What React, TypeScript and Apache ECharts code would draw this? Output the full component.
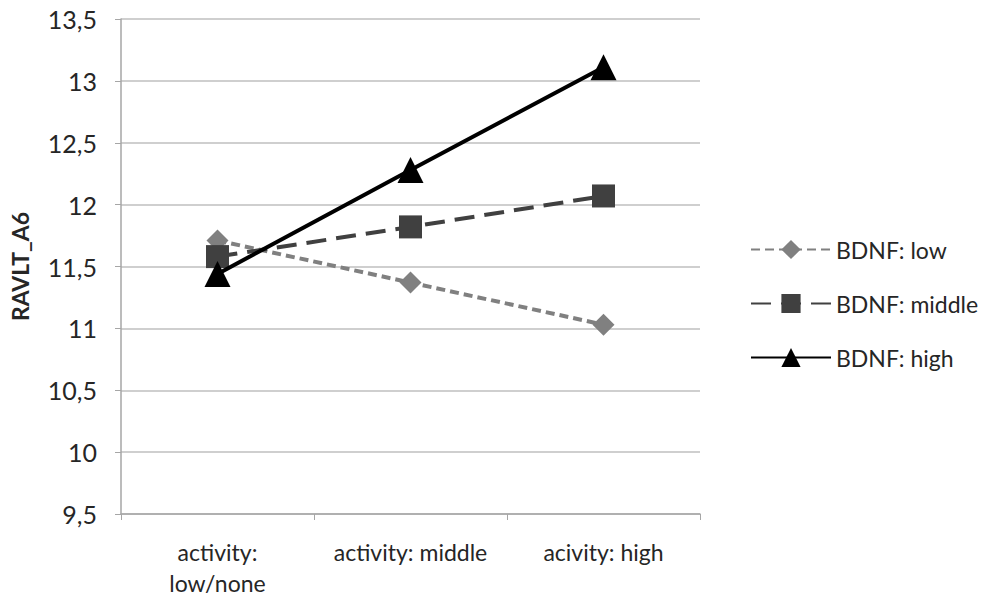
import React, { useEffect, useRef } from "react";
import * as echarts from "echarts";

const categories = ["activity:\nlow/none", "activity: middle", "acivity: high"];
const seriesNames = ["BDNF: low", "BDNF: middle", "BDNF: high"];
const lowValues = [11.71, 11.37, 11.03];
const middleValues = [11.58, 11.82, 12.07];
const highValues = [11.44, 12.28, 13.11];
const yTicks = { min: 9.5, max: 13.5, interval: 0.5 };

const FONT = "Lato, 'Open Sans', sans-serif";

export default function App() {
  const ref = useRef<HTMLDivElement>(null);
  useEffect(() => {
    if (!ref.current) return;
    const chart = echarts.init(ref.current, undefined, { renderer: "svg" });
    chart.setOption({
      animation: false,
      backgroundColor: "#ffffff",
      textStyle: { fontFamily: FONT },
      grid: {
        left: 121,
        right: 300,
        top: 19,
        bottom: 91,
        containLabel: false,
        outerBoundsMode: "none",
      },
      legend: {
        orient: "vertical",
        left: 745,
        top: 233,
        itemWidth: 80,
        itemHeight: 24,
        itemGap: 31,
        textStyle: { fontSize: 23, color: "#262626", fontFamily: FONT },
        data: seriesNames,
      },
      xAxis: {
        type: "category",
        data: categories,
        boundaryGap: true,
        axisLine: { lineStyle: { color: "#a6a6a6", width: 1.5 } },
        axisTick: { show: true, length: 6, alignWithLabel: false, lineStyle: { color: "#a6a6a6" } },
        axisLabel: {
          interval: 0,
          hideOverlap: false,
          fontSize: 23,
          color: "#262626",
          margin: 22,
          lineHeight: 31,
          fontFamily: FONT,
        },
      },
      yAxis: {
        type: "value",
        min: yTicks.min,
        max: yTicks.max,
        interval: yTicks.interval,
        name: "RAVLT_A6",
        nameLocation: "middle",
        nameGap: 90,
        nameTextStyle: { fontSize: 23, fontWeight: "bold", color: "#262626", fontFamily: FONT },
        axisLine: { show: true, lineStyle: { color: "#a6a6a6", width: 1.5 } },
        axisTick: { show: true, length: 6, lineStyle: { color: "#a6a6a6" } },
        splitLine: { lineStyle: { color: "#bfbfbf", width: 1.5 } },
        axisLabel: {
          fontSize: 25,
          color: "#262626",
          margin: 24,
          fontFamily: FONT,
          formatter: (v: number) => String(v).replace(".", ","),
        },
      },
      series: [
        {
          name: seriesNames[0],
          type: "line",
          data: lowValues,
          symbol: "diamond",
          symbolSize: 22,
          itemStyle: { color: "#808080" },
          lineStyle: { color: "#808080", width: 4, type: [9, 5] },
          z: 2,
        },
        {
          name: seriesNames[1],
          type: "line",
          data: middleValues,
          symbol: "rect",
          symbolSize: 23,
          itemStyle: { color: "#404040" },
          lineStyle: { color: "#404040", width: 4, type: [20, 10] },
          z: 3,
        },
        {
          name: seriesNames[2],
          type: "line",
          data: highValues,
          symbol: "triangle",
          symbolSize: 26,
          itemStyle: { color: "#000000" },
          lineStyle: { color: "#000000", width: 4 },
          z: 4,
        },
      ],
    });
    return () => chart.dispose();
  }, []);
  return <div ref={ref} style={{ width: 1000, height: 605, position: "absolute", left: 0, top: 0 }} />;
}
